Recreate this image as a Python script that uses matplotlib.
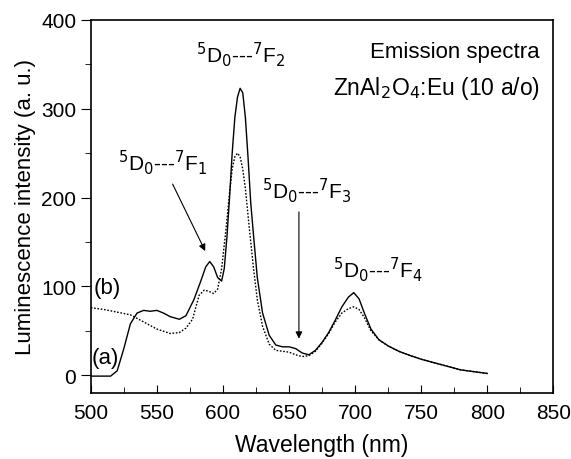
import matplotlib.pyplot as plt
from matplotlib.ticker import MultipleLocator

plt.rcParams['font.family'] = ['Liberation Sans', 'DejaVu Sans']

# curve (a), solid
wl_a = [500, 510, 515, 520, 525, 530, 535, 540, 545, 550, 555, 560, 567, 572, 578,
        583, 587, 590, 593, 596, 599, 601, 603, 605, 607, 609, 611, 613, 615, 617,
        619, 621, 623, 626, 630, 635, 640, 645, 650, 655, 660, 665, 670, 675, 680,
        685, 690, 695, 699, 703, 707, 712, 718, 725, 733, 742, 750, 760, 770, 780,
        790, 800]
int_a = [-1, -1, -1, 5, 30, 58, 70, 73, 72, 73, 70, 66, 63, 67, 85,
         105, 122, 128, 122, 110, 106, 120, 155, 200, 250, 290, 313, 323, 318, 290,
         245, 195, 160, 110, 70, 45, 34, 32, 32, 30, 25, 23, 28, 37, 48,
         62, 77, 88, 93, 86, 70, 52, 40, 33, 27, 22, 18, 14, 10, 6,
         4, 2]

# curve (b), dotted
wl_b = [500, 510, 520, 530, 540, 550, 560, 567, 572, 577, 582, 586, 590, 593, 596,
        599, 602, 605, 607, 609, 611, 613, 615, 617, 620, 623, 626, 630, 635, 640,
        645, 650, 655, 660, 665, 670, 675, 680, 685, 690, 695, 699, 703, 707, 712,
        718, 725, 733, 742, 750, 760, 770, 780, 790, 800]
int_b = [76, 74, 71, 68, 60, 52, 47, 48, 53, 63, 90, 96, 94, 92, 97,
         120, 160, 205, 232, 246, 250, 246, 232, 210, 165, 122, 85, 55, 35, 28,
         27, 26, 23, 21, 22, 27, 36, 47, 60, 70, 75, 77, 74, 65, 50,
         40, 33, 27, 22, 18, 14, 10, 6, 4, 2]

fig = plt.figure(figsize=(5.71, 4.6), dpi=100)
ax = fig.add_axes([0.159, 0.1435, 0.81, 0.811])

ax.plot(wl_a, int_a, color='black', lw=1.0)
ax.plot(wl_b, int_b, color='black', lw=1.0, linestyle=(0, (1.2, 1.2)))

ax.set_xlim(500, 850)
ax.set_ylim(-20, 400)
ax.xaxis.set_major_locator(MultipleLocator(50))
ax.xaxis.set_minor_locator(MultipleLocator(25))
ax.yaxis.set_major_locator(MultipleLocator(100))
ax.yaxis.set_minor_locator(MultipleLocator(50))
ax.tick_params(axis='x', which='both', direction='in', labelsize=15, pad=7)
ax.tick_params(axis='x', which='major', length=6)
ax.tick_params(axis='x', which='minor', length=4)
ax.tick_params(axis='y', which='both', direction='out', labelsize=15)
ax.tick_params(axis='y', which='major', length=7)
ax.tick_params(axis='y', which='minor', length=4)
for s in ax.spines.values():
    s.set_linewidth(1.2)

ax.set_xlabel('Wavelength (nm)', fontsize=16.5, labelpad=8)
ax.set_ylabel('Luminescence intensity (a. u.)', fontsize=16, labelpad=4)

fs = 15
ax.text(840, 365, 'Emission spectra', fontsize=16, ha='right', va='center')
ax.text(840, 324, r'ZnAl$_2$O$_4$:Eu (10 a/o)', fontsize=16.5, ha='right', va='center')
ax.text(613, 362, r'$^5$D$_0$---$^7$F$_2$', fontsize=fs, ha='center', va='center')
ax.text(554, 240, r'$^5$D$_0$---$^7$F$_1$', fontsize=fs, ha='center', va='center')
ax.text(663, 209, r'$^5$D$_0$---$^7$F$_3$', fontsize=fs, ha='center', va='center')
ax.text(717, 120, r'$^5$D$_0$---$^7$F$_4$', fontsize=fs, ha='center', va='center')
ax.text(502, 99, '(b)', fontsize=16, ha='left', va='center')
ax.text(500.5, 20, '(a)', fontsize=16, ha='left', va='center')

arrow = dict(arrowstyle='-|>', color='black', lw=0.8, mutation_scale=10)
ax.annotate('', xy=(587.5, 137), xytext=(561, 218), arrowprops=arrow)
ax.annotate('', xy=(657.5, 38), xytext=(657.5, 187), arrowprops=arrow)

fig.savefig('out.png', dpi=100)
